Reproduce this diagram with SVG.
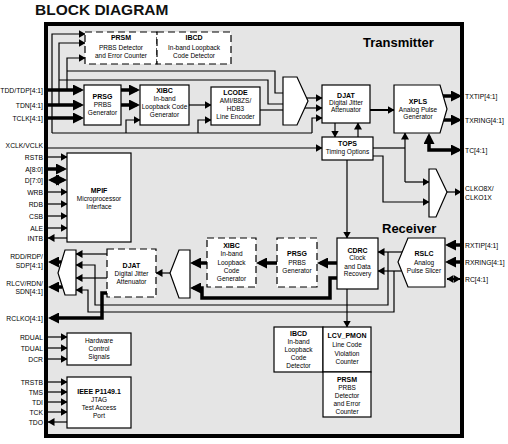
<svg xmlns="http://www.w3.org/2000/svg" width="508" height="444" viewBox="0 0 508 444">
<defs>
<style>
.bx{fill:#fff;stroke:#000;stroke-width:1.2}
.dx{fill:#fff;stroke:#000;stroke-width:1.2;stroke-dasharray:7 4}
.t{fill:none;stroke:#000;stroke-width:1.2}
.ta{fill:none;stroke:#000;stroke-width:1.2;marker-end:url(#a)}
.m{fill:none;stroke:#000;stroke-width:2;marker-end:url(#a)}
.T{fill:none;stroke:#000;stroke-width:3.5;marker-end:url(#A)}
text{font-family:"Liberation Sans",Arial,sans-serif;fill:#000}
.h{font-size:7px;font-weight:bold;text-anchor:middle}
.n{font-size:6.5px;text-anchor:middle}
.l{font-size:6.8px;text-anchor:end}
.r{font-size:6.8px;text-anchor:start}
</style>
<marker id="a" markerUnits="userSpaceOnUse" markerWidth="7" markerHeight="8" refX="6.5" refY="4" orient="auto-start-reverse"><path d="M0,0L7,4L0,8z" fill="#000"/></marker>
<marker id="A" markerUnits="userSpaceOnUse" markerWidth="11" markerHeight="11" refX="7.5" refY="5.5" orient="auto-start-reverse"><path d="M0,0L11,5.5L0,11z" fill="#000"/></marker>
</defs>
<rect width="508" height="444" fill="#fff"/>
<text x="35" y="15" style="font-size:15.5px;font-weight:bold;fill:#111">BLOCK DIAGRAM</text>
<rect id="frame" x="46" y="24" width="416" height="412" fill="#e5e5e5" stroke="#000" stroke-width="4"/>
<text x="363" y="47" style="font-size:13px;font-weight:bold">Transmitter</text>
<text x="382" y="233" style="font-size:13px;font-weight:bold">Receiver</text>

<g id="connectors">
<!-- transmitter -->
<path class="ta" d="M52,133L52,34L85,34"/>
<path class="ta" d="M59,105L59,43L85,43"/>
<path class="ta" d="M67,90L67,58L85,58"/>
<path class="t" d="M67,71L275,71L275,93L283,93"/>
<path class="t" d="M59,80L268,80L268,104L283,104"/>
<path class="t" d="M52,133L312,133"/>
<path class="ta" d="M126,133L126,120L140,120"/>
<path class="ta" d="M198,133L198,120L211,120"/>
<path class="ta" d="M312,133L312,118L322,118"/>
<path class="T" d="M48,90L80.5,90"/>
<path class="T" d="M48,105L80.5,105"/>
<path class="T" d="M48,118L80.5,118"/>
<path class="T" d="M121,90L136.5,90"/>
<path class="T" d="M121,105L136.5,105"/>
<path class="ta" d="M189,105L211,105"/>
<path class="t" d="M260,110L283,110"/>
<path class="ta" d="M306.6,98L322,98"/>
<path class="ta" d="M304.8,108L322,108"/>
<path class="m" d="M370,110L394,110"/>
<path class="ta" d="M335,123L335,137"/>
<path class="ta" d="M358,137L358,123"/>
<path class="T" d="M443,96L458.5,96"/>
<path class="T" d="M444,120L458.5,120"/>
<path class="T" d="M429,136.5L429,150L458.5,150" marker-start="url(#A)"/>
<path class="ta" d="M48,148L322,148"/>
<path class="t" d="M373,148L405,148"/>
<path class="ta" d="M405,182L405,133"/>
<path class="ta" d="M405,182L429,182"/>
<path class="ta" d="M373,156L383,156L383,202L429,202"/>
<path class="ta" d="M447,192L461,192"/>
<path class="ta" d="M347,160L347,238"/>
<!-- receiver -->
<path class="T" d="M461,245L448.5,245"/>
<path class="T" d="M461,262L448.5,262"/>
<path class="m" d="M447,279L460,279" marker-start="url(#a)"/>
<path class="ta" d="M402,252L378,252"/>
<path class="ta" d="M401,271L378,271"/>
<path class="ta" d="M388,252L388,305L95,305L95,265L76,265"/>
<path class="ta" d="M394,271L394,312L88,312L88,290L76,290"/>
<path class="ta" d="M347,289L347,327"/>
<path class="T" d="M337,263L320.5,263"/>
<path class="T" d="M277,263L259.5,263"/>
<path class="T" d="M207,263L193.5,263"/>
<path class="T" d="M337,278L330,278L330,298L202,298L202,288L193.5,288"/>
<path class="ta" d="M170,273L156,273"/>
<path class="ta" d="M107,254L76,254"/>
<path class="ta" d="M107,278L76,278"/>
<path class="T" d="M61.3,262L51.5,262"/>
<path class="T" d="M62.5,287L51.5,287"/>
<path class="T" d="M107,293L102,293L102,318L51.5,318"/>
<!-- MPIF -->
<path class="ta" d="M48,157L67,157"/>
<path class="T" d="M48,169L63.5,169"/>
<path class="T" d="M51.5,180L63.5,180" marker-start="url(#A)"/>
<path class="ta" d="M48,192L67,192"/>
<path class="ta" d="M48,204L67,204"/>
<path class="ta" d="M48,216L67,216"/>
<path class="ta" d="M48,228L67,228"/>
<path class="ta" d="M67,238L48,238"/>
<!-- HW -->
<path class="ta" d="M48,337L67,337"/>
<path class="ta" d="M48,348L67,348"/>
<path class="ta" d="M48,359L67,359"/>
<!-- JTAG -->
<path class="ta" d="M48,382L67,382"/>
<path class="ta" d="M48,392L67,392"/>
<path class="ta" d="M48,402L67,402"/>
<path class="ta" d="M48,412L67,412"/>
<path class="ta" d="M67,422L48,422"/>
</g>

<g id="tx_prsm">
<rect class="dx" x="85" y="32" width="72" height="32"/>
<text class="h" x="121" y="40">PRSM</text>
<text class="n" x="121" y="49.5">PRBS Detector</text>
<text class="n" x="121" y="57.5">and Error Counter</text>
</g>
<g id="tx_ibcd">
<rect class="dx" x="157" y="32" width="74" height="32"/>
<text class="h" x="194" y="40">IBCD</text>
<text class="n" x="194" y="49.5">In-band Loopback</text>
<text class="n" x="194" y="57.5">Code Detector</text>
</g>
<g id="tx_prsg">
<rect class="bx" x="84" y="85" width="37" height="40"/>
<text class="h" x="102.5" y="99">PRSG</text>
<text class="n" x="102.5" y="107">PRBS</text>
<text class="n" x="102.5" y="115">Generator</text>
</g>
<g id="tx_xibc">
<rect class="bx" x="140" y="85" width="49" height="40"/>
<text class="h" x="164.5" y="92.5">XIBC</text>
<text class="n" x="164.5" y="100.5">In-band</text>
<text class="n" x="164.5" y="109">Loopback Code</text>
<text class="n" x="164.5" y="116.5">Generator</text>
</g>
<g id="tx_lcode">
<rect class="bx" x="211" y="87" width="49" height="38"/>
<text class="h" x="235.5" y="95">LCODE</text>
<text class="n" x="235.5" y="103">AMI/B8ZS/</text>
<text class="n" x="235.5" y="111">HDB3</text>
<text class="n" x="235.5" y="119">Line Encoder</text>
</g>
<g id="tx_mux">
<path class="bx" d="M283,77L297,77L308,101L297,125L283,125z"/>
</g>
<g id="tx_djat">
<rect class="bx" x="322" y="85" width="48" height="38"/>
<text class="h" x="346" y="97.5">DJAT</text>
<text class="n" x="346" y="104.5">Digital Jitter</text>
<text class="n" x="346" y="111.5">Attenuator</text>
</g>
<g id="tx_xpls">
<path class="bx" d="M394,85L440,85L447,109L440,133L394,133z"/>
<text class="h" x="418" y="104">XPLS</text>
<text class="n" x="418" y="111.5">Analog Pulse</text>
<text class="n" x="418" y="119">Generator</text>
</g>
<g id="tops">
<rect class="bx" x="322" y="137" width="51" height="23"/>
<text class="h" x="347.5" y="145.5">TOPS</text>
<text class="n" x="347.5" y="154">Timing Options</text>
</g>
<g id="clk_mux">
<path class="bx" d="M429,169L436,169L447,192L436,217L429,217z"/>
</g>

<g id="rx_cdrc">
<rect class="bx" x="337" y="238" width="41" height="51"/>
<text class="h" x="357.5" y="253">CDRC</text>
<text class="n" x="357.5" y="260">Clock</text>
<text class="n" x="357.5" y="268.5">and Data</text>
<text class="n" x="357.5" y="276">Recovery</text>
</g>
<g id="rx_rslc">
<path class="bx" d="M408,238L445,238L445,287L408,287L398,262z"/>
<text class="h" x="424" y="255.5">RSLC</text>
<text class="n" x="424" y="264.5">Analog</text>
<text class="n" x="424" y="272.5">Pulse Slicer</text>
</g>
<g id="rx_prsg">
<rect class="dx" x="277" y="238" width="40" height="49"/>
<text class="h" x="297" y="255.5">PRSG</text>
<text class="n" x="297" y="264.5">PRBS</text>
<text class="n" x="297" y="272.5">Generator</text>
</g>
<g id="rx_xibc">
<rect class="dx" x="207" y="238" width="49" height="49"/>
<text class="h" x="231.5" y="247.5">XIBC</text>
<text class="n" x="231.5" y="256">In-band</text>
<text class="n" x="231.5" y="264.5">Loopback</text>
<text class="n" x="231.5" y="272.5">Code</text>
<text class="n" x="231.5" y="281">Generator</text>
</g>
<g id="rx_mux2">
<path class="bx" d="M190,250L190,298L179,298L170,273L179,250z"/>
</g>
<g id="rx_djat">
<rect class="dx" x="107" y="249" width="49" height="48"/>
<text class="h" x="131.5" y="267.5">DJAT</text>
<text class="n" x="131.5" y="275.5">Digital Jitter</text>
<text class="n" x="131.5" y="284">Attenuator</text>
</g>
<g id="rx_mux1">
<path class="bx" d="M76,250L76,295L65,295L58,273L65,250z"/>
</g>

<g id="mpif">
<rect class="bx" x="67" y="153" width="64" height="89"/>
<text class="h" x="99" y="192.5">MPIF</text>
<text class="n" x="99" y="200.5">Microprocessor</text>
<text class="n" x="99" y="208.5">Interface</text>
</g>
<g id="hw">
<rect class="bx" x="67" y="333" width="64" height="32"/>
<text class="n" x="99" y="343">Hardware</text>
<text class="n" x="99" y="351">Control</text>
<text class="n" x="99" y="358.5">Signals</text>
</g>
<g id="jtag">
<rect class="bx" x="67" y="377" width="64" height="51"/>
<text class="h" x="99" y="393.5">IEEE P1149.1</text>
<text class="n" x="99" y="401.5">JTAG</text>
<text class="n" x="99" y="409.5">Test Access</text>
<text class="n" x="99" y="417.5">Port</text>
</g>
<g id="rx_ibcd">
<rect class="bx" x="274" y="327" width="49" height="45"/>
<text class="h" x="298.5" y="335.5">IBCD</text>
<text class="n" x="298.5" y="344">In-band</text>
<text class="n" x="298.5" y="351.5">Loopback</text>
<text class="n" x="298.5" y="359.5">Code</text>
<text class="n" x="298.5" y="368">Detector</text>
</g>
<g id="lcv_pmon">
<rect class="bx" x="323" y="327" width="48" height="45"/>
<text class="h" x="347" y="337.5">LCV_PMON</text>
<text class="n" x="347" y="346.5">Line Code</text>
<text class="n" x="347" y="355.5">Violation</text>
<text class="n" x="347" y="363.5">Counter</text>
</g>
<g id="rx_prsm">
<rect class="bx" x="323" y="372" width="48" height="45"/>
<text class="h" x="347" y="381.5">PRSM</text>
<text class="n" x="347" y="389.5">PRBS</text>
<text class="n" x="347" y="397.5">Detector</text>
<text class="n" x="347" y="405.5">and Error</text>
<text class="n" x="347" y="413.5">Counter</text>
</g>

<g id="labels">
<text class="l" x="43" y="92.5">TDD/TDP[4:1]</text>
<text class="l" x="43" y="107.5">TDN[4:1]</text>
<text class="l" x="43" y="120.5">TCLK[4:1]</text>
<text class="l" x="43" y="148">XCLK/VCLK</text>
<text class="l" x="43" y="159.5">RSTB</text>
<text class="l" x="43" y="171.5">A[8:0]</text>
<text class="l" x="43" y="182.5">D[7:0]</text>
<text class="l" x="43" y="194.5">WRB</text>
<text class="l" x="43" y="206.5">RDB</text>
<text class="l" x="43" y="218.5">CSB</text>
<text class="l" x="43" y="230.5">ALE</text>
<text class="l" x="43" y="240.5">INTB</text>
<text class="l" x="43" y="259">RDD/RDP/</text>
<text class="l" x="43" y="267.5">SDP[4:1]</text>
<text class="l" x="43" y="285.5">RLCV/RDN/</text>
<text class="l" x="43" y="294">SDN[4:1]</text>
<text class="l" x="43" y="320.5">RCLKO[4:1]</text>
<text class="l" x="43" y="339.5">RDUAL</text>
<text class="l" x="43" y="350.5">TDUAL</text>
<text class="l" x="43" y="361.5">DCR</text>
<text class="l" x="43" y="384.5">TRSTB</text>
<text class="l" x="43" y="394.5">TMS</text>
<text class="l" x="43" y="404.5">TDI</text>
<text class="l" x="43" y="414.5">TCK</text>
<text class="l" x="43" y="424.5">TDO</text>
<text class="r" x="465" y="98.5">TXTIP[4:1]</text>
<text class="r" x="465" y="122.5">TXRING[4:1]</text>
<text class="r" x="465" y="152.5">TC[4:1]</text>
<text class="r" x="465" y="190.5">CLKO8X/</text>
<text class="r" x="465" y="199.5">CLKO1X</text>
<text class="r" x="465" y="247.5">RXTIP[4:1]</text>
<text class="r" x="465" y="264.5">RXRING[4:1]</text>
<text class="r" x="465" y="281.5">RC[4:1]</text>
</g>
</svg>
